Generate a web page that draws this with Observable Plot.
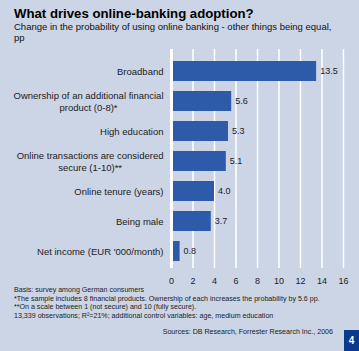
<!DOCTYPE html>
<html><head><meta charset="utf-8">
<script src="https://cdn.jsdelivr.net/npm/d3@7"></script>
<script src="https://cdn.jsdelivr.net/npm/@observablehq/plot@0.6"></script>
<style>
html,body{margin:0;padding:0;}
#page{position:relative;width:359px;height:351px;background:#cbd5e6;font-family:"Liberation Sans",Arial,sans-serif;overflow:hidden;color:#111;}
#title{position:absolute;left:14px;top:6px;font-weight:bold;font-size:13.2px;color:#000;white-space:nowrap;}
#sub{position:absolute;left:14px;top:21px;font-size:9.5px;line-height:11px;color:#111;width:330px;}
#chart{position:absolute;left:0;top:49px;}
#notes{position:absolute;left:14px;top:286px;font-size:7.1px;line-height:8.5px;color:#222;white-space:nowrap;}
#src{position:absolute;right:26px;top:328px;font-size:7.1px;color:#222;white-space:nowrap;}
#box{position:absolute;left:344px;top:330px;width:15px;height:21px;background:#0a3a8c;color:#fff;font-weight:bold;font-size:10px;text-align:center;line-height:21px;}
</style></head>
<body>
<div id="page">
<div id="title">What drives online-banking adoption?</div>
<div id="sub">Change in the probability of using online banking - other things being equal, pp</div>
<div id="chart"></div>
<div id="notes">Basis: survey among German consumers<br>*The sample includes 8 financial products. Ownership of each increases the probability by 5.6 pp.<br>**On a scale between 1 (not secure) and 10 (fully secure).<br>13,339 observations; R²=21%; additional control variables: age,  medium education</div>
<div id="src">Sources: DB Research, Forrester Research Inc., 2006</div>
<div id="box">4</div>
</div>
<script>
const categories = [
  "Broadband",
  "Ownership of an additional financial\nproduct (0-8)*",
  "High education",
  "Online transactions are considered\nsecure (1-10)**",
  "Online tenure (years)",
  "Being male",
  "Net income (EUR '000/month)"
];
const values = [13.5, 5.6, 5.3, 5.1, 4.0, 3.7, 0.8];
const xTicks = [0, 2, 4, 6, 8, 10, 12, 14, 16];

const data = categories.map((c, i) => ({label: c, value: values[i]}));

const chart = Plot.plot({
  width: 359,
  height: 245,
  marginLeft: 171,
  marginRight: 16,
  marginTop: 0,
  marginBottom: 26,
  style: {background: "transparent", fontFamily: "Liberation Sans, Arial, sans-serif", fontSize: "9px", color: "#222"},
  x: {domain: [0, 16], ticks: xTicks, label: null},
  y: {domain: categories, label: null, paddingInner: 0.335, paddingOuter: 0.2, align: 0.62},
  marks: [
    Plot.gridX(xTicks, {stroke: "white", strokeOpacity: 1, strokeWidth: 1.5}),
    Plot.axisX({ticks: xTicks, tickSize: 0, tickPadding: 9, fontSize: 9, fill: "#222", label: null}),
    Plot.axisY({tickSize: 0, tickPadding: 8, fontSize: 9.5, fill: "#222", lineHeight: 1.25, label: null}),
    Plot.barX(data, {x: "value", y: "label", fill: "#2d5aa9"}),
    Plot.ruleX([0], {stroke: "white", strokeWidth: 3}),
    Plot.text(data, {x: "value", y: "label", text: d => d.value.toFixed(1), dx: 3.5, textAnchor: "start", fill: "#222", fontSize: 9})
  ]
});
document.getElementById("chart").appendChild(chart);

// center the lines of multi-line y labels within their right-aligned block
chart.querySelectorAll("text").forEach(t => {
  const spans = Array.from(t.querySelectorAll("tspan"));
  if (spans.length < 2) return;
  const lens = spans.map(s => s.getComputedTextLength());
  const W = Math.max(...lens);
  spans.forEach((s, i) => {
    const x0 = parseFloat(s.getAttribute("x")) || 0;
    s.setAttribute("x", x0 - (W - lens[i]) / 2);
  });
});
</script>
</body></html>
